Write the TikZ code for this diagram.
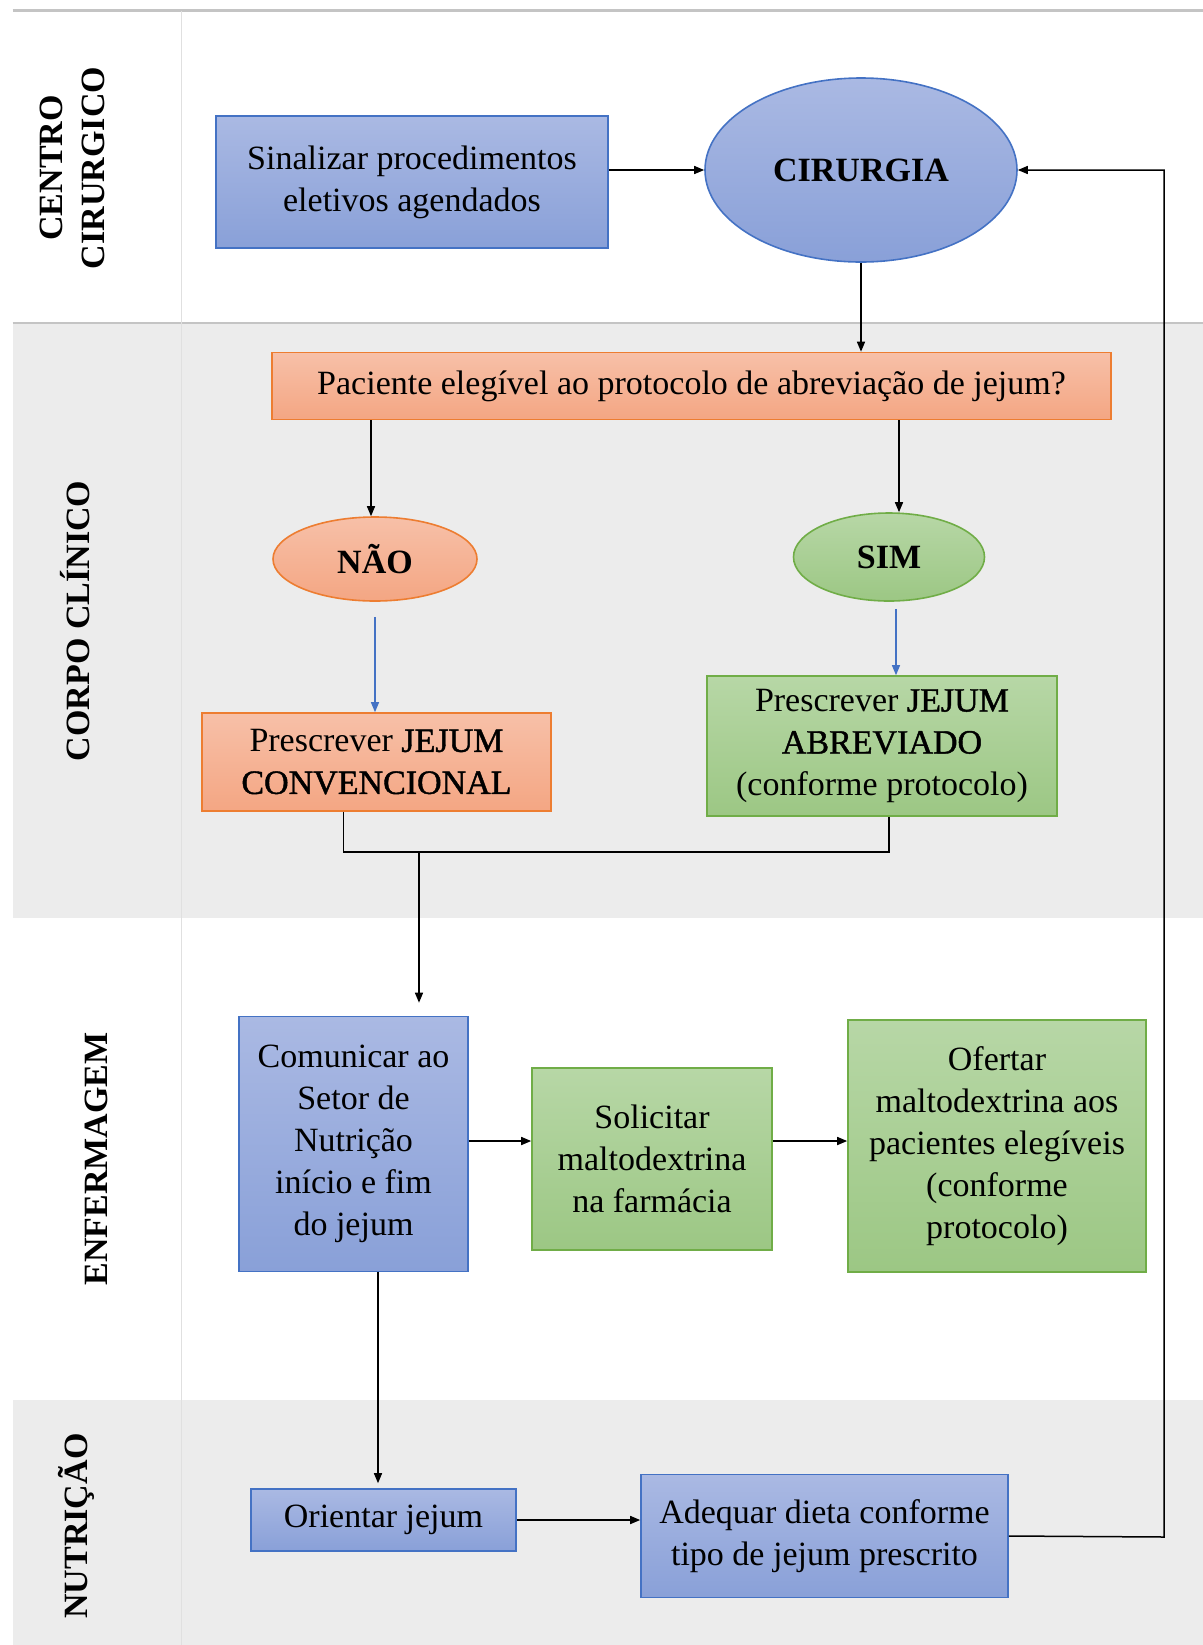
\documentclass[tikz,border=0pt]{standalone}
\usepackage{fontspec}
\setmainfont{Liberation Serif}
\newfontface\realce{Liberation Serif}[FakeBold=1.3]
\usetikzlibrary{shapes.geometric,arrows.meta}
\definecolor{azulA}{RGB}{170,185,227}
\definecolor{azulB}{RGB}{137,160,216}
\definecolor{azulL}{RGB}{68,114,196}
\definecolor{larA}{RGB}{247,192,168}
\definecolor{larB}{RGB}{244,166,131}
\definecolor{larL}{RGB}{237,125,49}
\definecolor{verA}{RGB}{183,215,166}
\definecolor{verB}{RGB}{156,199,132}
\definecolor{verL}{RGB}{112,173,71}
\definecolor{faixa}{RGB}{236,236,236}
\definecolor{linha}{RGB}{196,196,196}

\begin{document}
\begin{tikzpicture}[x=0.5pt,y=-0.5pt,font=\fontsize{17}{21}\selectfont,
    caixa/.style={draw,line width=0.8pt,align=center,inner sep=0pt},
    azul/.style={caixa,draw=azulL,top color=azulA,bottom color=azulB},
    laranja/.style={caixa,draw=larL,top color=larA,bottom color=larB},
    verde/.style={caixa,draw=verL,top color=verA,bottom color=verB},
    elipse/.style={ellipse,font=\fontsize{17}{21}\selectfont\bfseries},
    seta/.style={-{Triangle[length=5pt,width=4pt]},line width=0.75pt},
    setaazul/.style={seta,azulL,line width=0.6pt},
    raia/.style={rotate=90,align=center,font=\fontsize{17}{21}\selectfont\bfseries}]
    \useasboundingbox (0,0) rectangle (1203,1645);
    \fill[faixa] (12.6,323) rectangle (1203,918);
    \fill[faixa] (12.6,1400) rectangle (1203,1645);
    \draw[linha,line width=1.5pt] (12.6,10.5) -- (1203,10.5);
    \draw[linha,line width=1.2pt] (12.6,323) -- (1203,323);
    \draw[black!12,line width=0.5pt] (181,10.5) -- (181,1645);
    \node[raia] (lcc) at (72,168) {CENTRO\\CIRURGICO};
    \node[raia] (lcp) at (75,621) {CORPO CLÍNICO};
    \node[raia] (len) at (96,1159) {ENFERMAGEM};
    \node[raia] (lnu) at (76,1526) {NUTRIÇÃO};
    \node[azul,minimum width=196pt,minimum height=66pt] (sinal) at (412,182) {Sinalizar procedimentos\\eletivos agendados};
    \node[azul,elipse,minimum width=156pt,minimum height=92pt] (cir) at (861,170) {CIRURGIA};
    \node[laranja,minimum width=419.5pt,minimum height=33.5pt] (pac) at (691.5,386) {Paciente elegível ao protocolo de abreviação de jejum?};
    \node[laranja,elipse,minimum width=102pt,minimum height=42pt] (nao) at (375,559) {NÃO};
    \node[verde,elipse,minimum width=95.5pt,minimum height=44pt] (sim) at (889,557) {SIM};
    \node[laranja,minimum width=174.5pt,minimum height=49pt] (conv) at (376.5,762) {Prescrever {\realce JEJUM}\\{\realce CONVENCIONAL}};
    \node[verde,minimum width=175pt,minimum height=70pt] (abrev) at (882,746) {Prescrever {\realce JEJUM}\\{\realce ABREVIADO}\\(conforme protocolo)};
    \node[azul,minimum width=114.5pt,minimum height=127.5pt] (com) at (353.5,1144) {Comunicar ao\\Setor de\\Nutrição\\início e fim\\do jejum};
    \node[verde,minimum width=120pt,minimum height=91pt] (sol) at (652,1159) {Solicitar\\maltodextrina\\na farmácia};
    \node[verde,minimum width=149pt,minimum height=126pt] (ofe) at (997,1146) {Ofertar\\maltodextrina aos\\pacientes elegíveis\\(conforme\\protocolo)};
    \node[azul,minimum width=132.5pt,minimum height=31pt] (ori) at (383.5,1520) {Orientar jejum};
    \node[azul,minimum width=183.5pt,minimum height=61.5pt] (ade) at (824.5,1536) {Adequar dieta conforme\\tipo de jejum prescrito};
    \coordinate (bar) at (419,852);
    \coordinate (ret) at (1164,1537);
    \draw[seta] (sinal.east |- cir.west) -- (cir.west);
    \draw[seta] (cir.south) -- (cir.south |- pac.north);
    \draw[seta] ([xshift=-2pt]pac.south -| nao.north) -- ([xshift=-2pt]nao.north);
    \draw[seta] ([xshift=5pt]pac.south -| sim.north) -- ([xshift=5pt]sim.north);
    \draw[setaazul,shorten <=7.5pt] (nao.south) -- (nao.south |- conv.north);
    \draw[setaazul,shorten <=3.5pt] ([xshift=3.5pt]sim.south) -- ([xshift=3.5pt]sim.south |- abrev.north);
    \draw[line width=0.75pt] ([xshift=-16.5pt]conv.south) |- (bar) -| ([xshift=3.5pt]abrev.south);
    \draw[seta,shorten >=6.5pt] (bar) -- (bar |- com.north);
    \draw[seta] (com.east |- 0,1141) -- (sol.west |- 0,1141);
    \draw[seta] (sol.east |- 0,1141) -- (ofe.west |- 0,1141);
    \draw[seta,shorten >=2.5pt] ([xshift=-2.75pt]ori.north |- com.south) -- ([xshift=-2.75pt]ori.north);
    \draw[seta] (ori.east) -- (ori.east -| ade.west);
    \draw[seta] (ade.east) -- (ret) |- (cir.east);
\end{tikzpicture}
\end{document}
